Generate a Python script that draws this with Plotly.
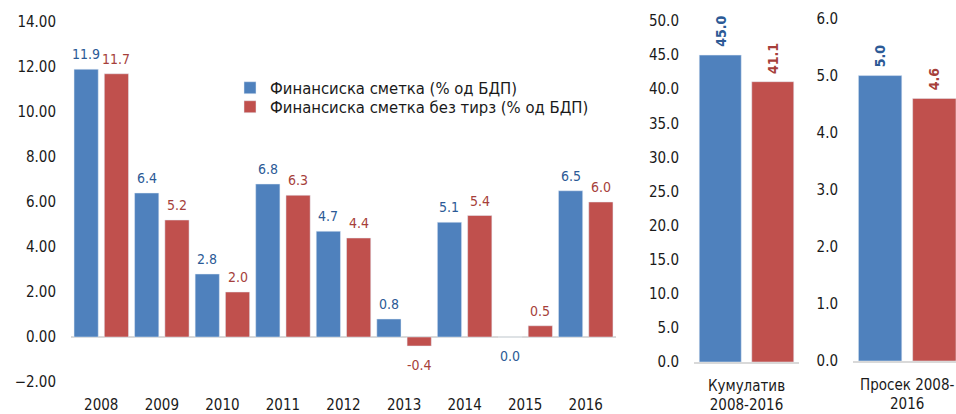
import plotly.graph_objects as go

# ---- data ----
years = ["2008", "2009", "2010", "2011", "2012", "2013", "2014", "2015", "2016"]
fin_account = [11.9, 6.4, 2.8, 6.8, 4.7, 0.8, 5.1, 0.0, 6.5]
fin_account_ex = [11.7, 5.2, 2.0, 6.3, 4.4, -0.4, 5.4, 0.5, 6.0]

cum_label = ["Кумулатив<br>2008-2016"]
cum_fin = [45.0]
cum_fin_ex = [41.1]

avg_label = ["Просек 2008-<br>2016"]
avg_fin = [5.0]
avg_fin_ex = [4.6]

name_a = "Финансиска сметка (% од БДП)"
name_b = "Финансиска сметка без тирз (% од БДП)"

# ---- style ----
BLUE = "#4F81BD"
RED = "#C0504D"
BLUE_T = "#2C5A96"
RED_T = "#A63F3B"
FONT = "DejaVu Sans Condensed, DejaVu Sans"
W, H = 956, 414


def fx(px):
    return px / W


def fy(px):
    return (H - px) / H


fig = go.Figure()

fig.add_trace(go.Bar(x=years, y=fin_account, name=name_a, marker_color=BLUE,
                     xaxis="x", yaxis="y", legend="legend"))
fig.add_trace(go.Bar(x=years, y=fin_account_ex, name=name_b, marker_color=RED,
                     xaxis="x", yaxis="y", legend="legend2"))
fig.add_trace(go.Bar(x=cum_label, y=cum_fin, name=name_a, marker_color=BLUE,
                     xaxis="x2", yaxis="y2", showlegend=False))
fig.add_trace(go.Bar(x=cum_label, y=cum_fin_ex, name=name_b, marker_color=RED,
                     xaxis="x2", yaxis="y2", showlegend=False))
fig.add_trace(go.Bar(x=avg_label, y=avg_fin, name=name_a, marker_color=BLUE,
                     xaxis="x3", yaxis="y3", showlegend=False))
fig.add_trace(go.Bar(x=avg_label, y=avg_fin_ex, name=name_b, marker_color=RED,
                     xaxis="x3", yaxis="y3", showlegend=False))

annotations = []
for i, (va, vb) in enumerate(zip(fin_account, fin_account_ex)):
    for v, off, col in ((va, -0.25, BLUE_T), (vb, 0.25, RED_T)):
        pos = v > 0
        annotations.append(dict(
            x=i + off, y=v, xref="x", yref="y", text=f"{v:.1f}",
            showarrow=False, font=dict(family=FONT, size=14, color=col),
            yanchor="bottom" if pos else "top", yshift=5 if pos else -9,
        ))
for xr, yr, vals in (("x2", "y2", (cum_fin[0], cum_fin_ex[0])),
                     ("x3", "y3", (avg_fin[0], avg_fin_ex[0]))):
    for v, off, col in ((vals[0], -0.25, BLUE_T), (vals[1], 0.25, RED_T)):
        annotations.append(dict(
            x=off, y=v, xref=xr, yref=yr, text=f"<b>{v:.1f}</b>",
            showarrow=False, textangle=-90,
            font=dict(family=FONT, size=14, color=col),
            yanchor="bottom", yshift=6,
        ))

tickfont = dict(family=FONT, size=15, color="#1a1a1a")
LINE = "#D9D9D9"
legfont = dict(family=FONT, size=16.5, color="#1a1a1a")

fig.update_layout(
    width=W, height=H,
    margin=dict(l=0, r=0, t=0, b=0, autoexpand=False),
    paper_bgcolor="white", plot_bgcolor="white",
    barmode="group", bargap=0, bargroupgap=0.2,
    font=dict(family=FONT, size=14, color="#1a1a1a"),
    showlegend=True,
    legend=dict(x=fx(230), y=fy(70.5), xanchor="left", yanchor="top",
                bgcolor="rgba(0,0,0,0)", font=legfont, itemclick=False),
    legend2=dict(x=fx(230), y=fy(89.5), xanchor="left", yanchor="top",
                 bgcolor="rgba(0,0,0,0)", font=legfont, itemclick=False),
    annotations=annotations,
    xaxis=dict(domain=[fx(71), fx(616)], anchor="y", type="category",
               range=[-0.5, 8.5], showgrid=False, zeroline=False, showline=False,
               tickfont=tickfont, ticks="", ticklabelstandoff=12),
    yaxis=dict(domain=[fy(382), fy(22)], anchor="x", range=[-2, 14], dtick=2,
               tickformat=".2f", showgrid=False, zeroline=True, zerolinecolor=LINE,
               zerolinewidth=1.5, showline=False, tickfont=tickfont, ticks="",
               ticklabelstandoff=14),
    xaxis2=dict(domain=[fx(694), fx(799)], anchor="y2", type="category",
                range=[-0.5, 0.5], showgrid=False, zeroline=False, showline=True,
                linecolor=LINE, linewidth=1.5, tickfont=tickfont, ticks="",
                ticklabelstandoff=9),
    yaxis2=dict(domain=[fy(362), fy(21)], anchor="x2", range=[0, 50], dtick=5,
                tickformat=".1f", showgrid=False, zeroline=False, showline=False,
                tickfont=tickfont, ticks="", ticklabelstandoff=14),
    xaxis3=dict(domain=[fx(853), 1.0], anchor="y3", type="category",
                range=[-0.5, 0.45], showgrid=False, zeroline=False, showline=True,
                linecolor=LINE, linewidth=1.5, tickfont=tickfont, ticks="",
                ticklabelstandoff=9),
    yaxis3=dict(domain=[fy(361), fy(18.5)], anchor="x3", range=[0, 6], dtick=1,
                tickformat=".1f", showgrid=False, zeroline=False, showline=False,
                tickfont=tickfont, ticks="", ticklabelstandoff=14),
)

fig.write_html("out.html",
               config={"displayModeBar": False},
               post_script="document.body.style.margin='0';document.body.style.overflow='hidden';")
